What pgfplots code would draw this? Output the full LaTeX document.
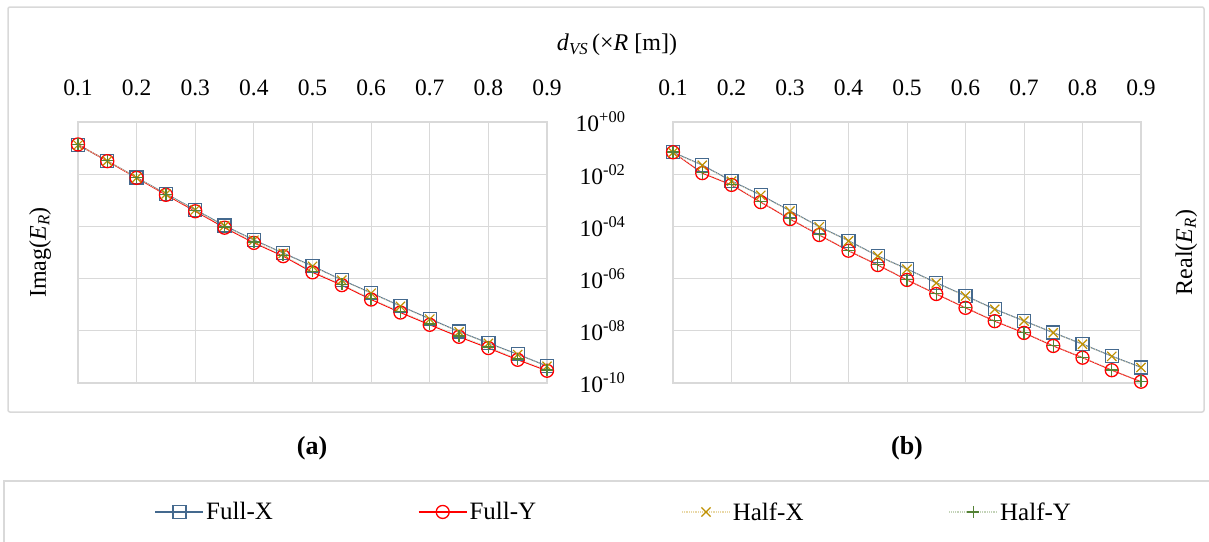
\documentclass[border=0pt]{standalone}
\usepackage{fontspec}
\setmainfont{Liberation Serif}
\usepackage{pgfplots}
\pgfplotsset{compat=1.18}
\definecolor{cfx}{HTML}{44698E}
\definecolor{cfy}{HTML}{FF0000}
\definecolor{chx}{HTML}{BF9000}
\definecolor{chy}{HTML}{548235}
\definecolor{gridgray}{HTML}{D9D9D9}
\newcommand{\fs}{\fontsize{23.5}{28}\selectfont}
\pgfplotsset{
  mypanel/.style={
    scale only axis, height=261pt,
    xmin=0.1, xmax=0.9, ymin=1e-10, ymax=1,
    xtick={0.1,0.2,0.3,0.4,0.5,0.6,0.7,0.8,0.9},
    xticklabels={0.1,0.2,0.3,0.4,0.5,0.6,0.7,0.8,0.9},
    xticklabel pos=upper, xticklabel shift=23pt,
    ytick={1e-10,1e-8,1e-6,1e-4,1e-2,1},
    grid=major, major grid style={draw=gridgray, line width=1pt},
    axis line style={draw=gridgray, line width=1.2pt},
    major tick length=0pt,
    tick label style={font=\fs},
    label style={font=\fontsize{24}{28}\selectfont},
    clip=false,
  },
  sFX/.style={color=cfx, draw=cfx, line width=1pt, mark=square, mark size=6.5pt, mark options={draw=cfx, line width=1.3pt, fill=none}},
  sFY/.style={color=cfy, draw=cfy, line width=1pt, mark=o, mark size=6.5pt, mark options={draw=cfy, line width=1.3pt, fill=none}},
  sHX/.style={color=chx!35, line width=0.8pt, densely dotted, mark=x, mark size=6.5pt, mark options={color=chx, solid, line width=1.2pt}},
  sHY/.style={color=chy!35, line width=0.8pt, densely dotted, mark=+, mark size=6pt, mark options={color=chy, solid, line width=1.4pt}},
}
\begin{document}
\begin{tikzpicture}[x=1pt,y=1pt]
\path[use as bounding box] (0,0) rectangle (1209,-541);
\draw[gridgray, line width=1.5pt, rounded corners=2pt] (8,-7) rectangle (1204,-412);
\draw[gridgray, line width=1.5pt] (4,-560) -- (4,-481) -- (1230,-481);

\node[font=\fontsize{24}{28}\selectfont] at (617,-45) {\textit{d}\textsubscript{\textit{VS}}\,(×\textit{R} [m])};
\node[font=\fontsize{26}{30}\selectfont\bfseries] at (312,-448) {(a)};
\node[font=\fontsize{26}{30}\selectfont\bfseries] at (907,-448) {(b)};

\begin{axis}[ymode=log, width=469pt, mypanel, at={(78pt,-383pt)}, anchor=south west,
  yticklabels={},
  ylabel={Imag(\textit{E}\textsubscript{\textit{R}})},
  ylabel style={at={(axis description cs:-0.081,0.5)}, anchor=center},
  legend columns=4,
  legend style={at={(axis description cs:0.163,-0.494)}, anchor=west, fill=none, draw=none,
    font=\fontsize{25}{29}\selectfont, inner sep=0pt,
    /tikz/every even column/.append style={column sep=143pt}},
  legend image code/.code={\draw[mark repeat=2, mark phase=2, #1, line width=1.6pt] plot coordinates {(0pt,0pt) (24pt,0pt) (48pt,0pt)};},
]
\addplot[sFX] coordinates {(0.10,1.32e-1) (0.15,3.24e-2) (0.20,7.41e-3) (0.25,1.78e-3) (0.30,4.37e-4) (0.35,1.07e-4) (0.40,3.02e-5) (0.45,9.55e-6) (0.50,3.02e-6) (0.55,8.91e-7) (0.60,2.82e-7) (0.65,8.91e-8) (0.70,2.88e-8) (0.75,9.33e-9) (0.80,3.39e-9) (0.85,1.26e-9) (0.90,4.47e-10)};
\addlegendentry{Full-X}
\addplot[sFY] coordinates {(0.10,1.38e-1) (0.15,3.16e-2) (0.20,7.24e-3) (0.25,1.62e-3) (0.30,3.80e-4) (0.35,8.91e-5) (0.40,2.34e-5) (0.45,7.24e-6) (0.50,1.74e-6) (0.55,5.62e-7) (0.60,1.58e-7) (0.65,5.01e-8) (0.70,1.70e-8) (0.75,5.89e-9) (0.80,2.19e-9) (0.85,7.76e-10) (0.90,2.95e-10)};
\addlegendentry{Full-Y}
\addplot[sHX] coordinates {(0.10,1.30e-1) (0.15,3.20e-2) (0.20,7.30e-3) (0.25,1.75e-3) (0.30,4.30e-4) (0.35,1.05e-4) (0.40,2.95e-5) (0.45,9.30e-6) (0.50,2.95e-6) (0.55,8.70e-7) (0.60,2.75e-7) (0.65,8.70e-8) (0.70,2.80e-8) (0.75,9.10e-9) (0.80,3.30e-9) (0.85,1.23e-9) (0.90,4.40e-10)};
\addlegendentry{Half-X}
\addplot[sHY] coordinates {(0.10,1.40e-1) (0.15,3.30e-2) (0.20,7.60e-3) (0.25,1.70e-3) (0.30,4.00e-4) (0.35,9.50e-5) (0.40,2.50e-5) (0.45,7.80e-6) (0.50,1.90e-6) (0.55,6.00e-7) (0.60,1.70e-7) (0.65,5.40e-8) (0.70,1.85e-8) (0.75,6.40e-9) (0.80,2.40e-9) (0.85,8.40e-10) (0.90,3.20e-10)};
\addlegendentry{Half-Y}
\end{axis}

\begin{axis}[ymode=log, width=468pt, mypanel, at={(673pt,-383pt)}, anchor=south west,
  yticklabels={10\textsuperscript{-10},10\textsuperscript{-08},10\textsuperscript{-06},10\textsuperscript{-04},10\textsuperscript{-02},10\textsuperscript{+00}},
  yticklabel shift=44pt,
  ylabel={Real(\textit{E}\textsubscript{\textit{R}})},
  ylabel style={at={(axis description cs:1.097,0.5)}, anchor=center},
]
\addplot[sFX] coordinates {(0.10,6.92e-2) (0.15,2.24e-2) (0.20,5.50e-3) (0.25,1.58e-3) (0.30,3.98e-4) (0.35,9.77e-5) (0.40,2.82e-5) (0.45,7.41e-6) (0.50,2.34e-6) (0.55,6.92e-7) (0.60,2.19e-7) (0.65,6.76e-8) (0.70,2.40e-8) (0.75,8.51e-9) (0.80,3.09e-9) (0.85,1.07e-9) (0.90,3.98e-10)};
\addplot[sFY] coordinates {(0.10,6.92e-2) (0.15,1.10e-2) (0.20,3.89e-3) (0.25,8.51e-4) (0.30,1.91e-4) (0.35,4.68e-5) (0.40,1.17e-5) (0.45,3.31e-6) (0.50,8.91e-7) (0.55,2.57e-7) (0.60,7.59e-8) (0.65,2.34e-8) (0.70,8.32e-9) (0.75,2.63e-9) (0.80,9.33e-10) (0.85,3.09e-10) (0.90,1.12e-10)};
\addplot[sHX] coordinates {(0.10,6.80e-2) (0.15,2.20e-2) (0.20,5.40e-3) (0.25,1.55e-3) (0.30,3.90e-4) (0.35,9.60e-5) (0.40,2.78e-5) (0.45,7.30e-6) (0.50,2.30e-6) (0.55,6.80e-7) (0.60,2.15e-7) (0.65,6.65e-8) (0.70,2.36e-8) (0.75,8.40e-9) (0.80,3.05e-9) (0.85,1.05e-9) (0.90,3.92e-10)};
\addplot[sHY] coordinates {(0.10,7.00e-2) (0.15,1.15e-2) (0.20,4.00e-3) (0.25,8.80e-4) (0.30,1.98e-4) (0.35,4.85e-5) (0.40,1.21e-5) (0.45,3.42e-6) (0.50,9.20e-7) (0.55,2.65e-7) (0.60,7.85e-8) (0.65,2.42e-8) (0.70,8.60e-9) (0.75,2.72e-9) (0.80,9.60e-10) (0.85,3.19e-10) (0.90,1.15e-10)};
\end{axis}
\end{tikzpicture}
\end{document}
